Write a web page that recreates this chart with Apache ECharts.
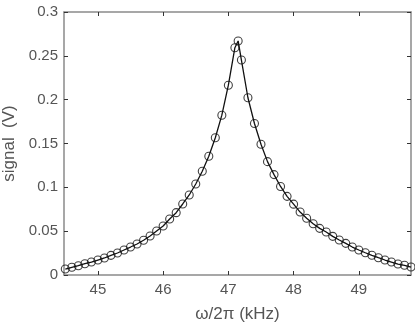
<!DOCTYPE html>
<html>
<head>
<meta charset="UTF-8">
<title>resonance</title>
<script type="text/javascript" src="https://cdn.jsdelivr.net/npm/echarts@6/dist/echarts.min.js"></script>
<style type="text/css">
body { margin: 0; background-color: #FFFFFF }
</style>
</head>
<body>
	<div id="chart" style="width: 415px; height: 325px"></div>
<script type="text/javascript">
	var freq = [44.5, 44.6, 44.7, 44.8, 44.9, 45.0, 45.1, 45.2, 45.3, 45.4,
		45.5, 45.6, 45.7, 45.8, 45.9, 46.0, 46.1, 46.2, 46.3, 46.4,
		46.5, 46.6, 46.7, 46.8, 46.9, 47.0, 47.1, 47.15, 47.2, 47.3,
		47.4, 47.5, 47.6, 47.7, 47.8, 47.9, 48.0, 48.1, 48.2, 48.3,
		48.4, 48.5, 48.6, 48.7, 48.8, 48.9, 49.0, 49.1, 49.2, 49.3,
		49.4, 49.5, 49.6, 49.7, 49.8];
	var signal = [0.0068, 0.0088, 0.0106, 0.0129, 0.0148, 0.0171, 0.0194, 0.0224, 0.0251, 0.0285,
		0.0319, 0.0354, 0.0396, 0.0445, 0.0502, 0.0559, 0.0639, 0.0711, 0.0810, 0.0913,
		0.1038, 0.1183, 0.1355, 0.1565, 0.1823, 0.2165, 0.2593, 0.2670, 0.2452, 0.2022,
		0.1728, 0.1492, 0.1293, 0.1145, 0.1010, 0.0897, 0.0808, 0.0718, 0.0647, 0.0584,
		0.0532, 0.0490, 0.0441, 0.0399, 0.0361, 0.0319, 0.0285, 0.0254, 0.0225, 0.0197,
		0.0171, 0.0148, 0.0125, 0.0111, 0.0091];
	var xTicks = [45, 46, 47, 48, 49];
	var yTicks = [0, 0.05, 0.1, 0.15, 0.2, 0.25, 0.3];

	var axisGray = '#8a8a8a';
	var labelGray = '#555555';
	var font = 'Liberation Sans, Arial, sans-serif';

	var pts = [];
	for (var i = 0; i < freq.length; i++) {
		pts.push([freq[i], signal[i]]);
	}

	function xAx(pos, show) {
		return {
			type : 'value',
			position : pos,
			min : 44.48,
			max : 49.8,
			interval : 1,
			axisLine : { show : true, onZero : false, lineStyle : { color : axisGray, width : 1.5 } },
			axisTick : { show : true, inside : true, length : 4,
				lineStyle : { color : '#333', width : 1 },
				customValues : xTicks },
			axisLabel : { show : show, color : labelGray, fontSize : 15, fontFamily : font,
				margin : 7, customValues : xTicks },
			splitLine : { show : false },
			name : show ? 'ω/2π (kHz)' : '',
			nameLocation : 'middle',
			nameGap : 31,
			nameTextStyle : { color : labelGray, fontSize : 17, fontFamily : font }
		};
	}
	function yAx(pos, show) {
		return {
			type : 'value',
			position : pos,
			min : 0,
			max : 0.3,
			interval : 0.05,
			axisLine : { show : true, onZero : false, lineStyle : { color : axisGray, width : 1.5 } },
			axisTick : { show : true, inside : true, length : 4,
				lineStyle : { color : '#333', width : 1 } },
			axisLabel : { show : show, color : labelGray, fontSize : 15, fontFamily : font,
				margin : 6,
				formatter : function(v) { return yTicks.indexOf(+v.toFixed(2)) >= 0 ? String(+v.toFixed(2)) : ''; } },
			splitLine : { show : false },
			name : show ? 'signal  (V)' : '',
			nameLocation : 'middle',
			nameGap : 44,
			nameTextStyle : { color : labelGray, fontSize : 17, fontFamily : font }
		};
	}

	var myChart = echarts.init(document.getElementById('chart'));
	var option = {
		animation : false,
		backgroundColor : '#FFFFFF',
		grid : { left : 64, right : 4, top : 12, bottom : 50, outerBoundsMode : 'none' },
		xAxis : [ xAx('bottom', true), xAx('top', false) ],
		yAxis : [ yAx('left', true), yAx('right', false) ],
		series : [ {
			type : 'line',
			data : pts,
			showSymbol : false,
			symbol : 'none',
			lineStyle : { color : '#111', width : 1.3 },
			z : 2
		}, {
			type : 'scatter',
			data : pts,
			symbol : 'circle',
			symbolSize : 8,
			itemStyle : { color : 'rgba(0,0,0,0)', borderColor : '#111', borderWidth : 1.1 },
			z : 3
		} ]
	};
	myChart.setOption(option);
</script>
</body>
</html>
